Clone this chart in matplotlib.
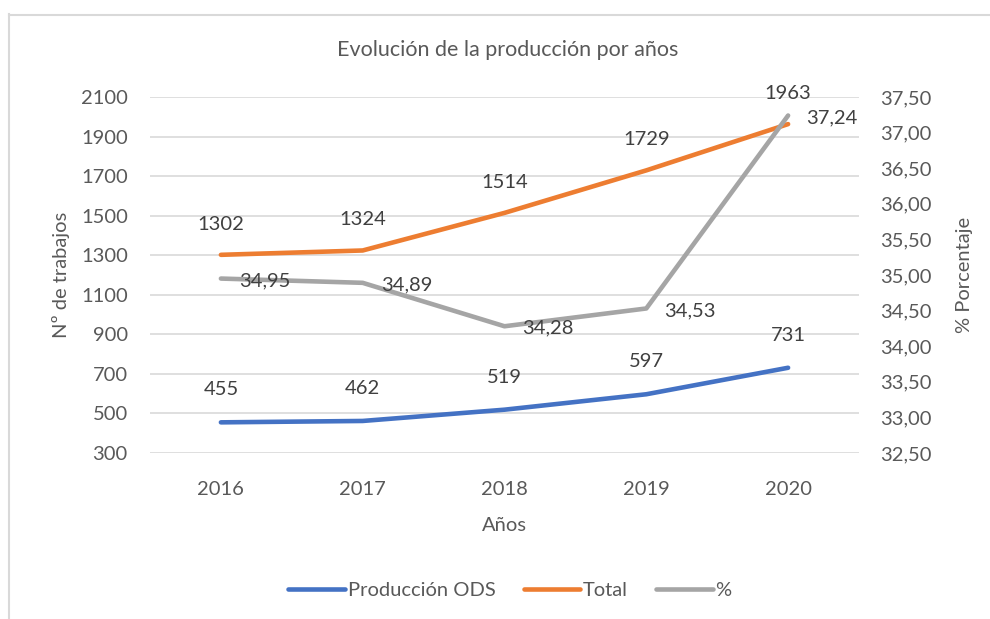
import matplotlib
matplotlib.use("Agg")
import matplotlib.pyplot as plt
from matplotlib.lines import Line2D

plt.rcParams['font.family'] = ['Lato', 'DejaVu Sans']

years = ['2016', '2017', '2018', '2019', '2020']
produccion_ods = [455, 462, 519, 597, 731]
total = [1302, 1324, 1514, 1729, 1963]
porcentaje = [34.95, 34.89, 34.28, 34.53, 37.24]

left_ticks = [300, 500, 700, 900, 1100, 1300, 1500, 1700, 1900, 2100]
right_ticks = [32.5, 33.0, 33.5, 34.0, 34.5, 35.0, 35.5, 36.0, 36.5, 37.0, 37.5]

txt = '#595959'
lab = '#404040'
c_blue = '#4472C4'
c_orange = '#ED7D31'
c_gray = '#A5A5A5'

W, H = 990, 619
fig = plt.figure(figsize=(W / 100, H / 100), dpi=100)
ax = fig.add_axes([150 / W, 1 - 453 / H, (859 - 150) / W, (453 - 97) / H])
ax2 = ax.twinx()

x = list(range(len(years)))
ax.set_xlim(-0.5, len(years) - 0.5)
ax.set_ylim(left_ticks[0], left_ticks[-1])
ax2.set_ylim(right_ticks[0], right_ticks[-1])

ax.set_yticks(left_ticks)
ax.set_yticklabels([str(v) for v in left_ticks])
ax2.set_yticks(right_ticks)
ax2.set_yticklabels([f"{v:.2f}".replace('.', ',') for v in right_ticks])
ax.set_xticks(x)
ax.set_xticklabels(years)

fs = 14.5
for a in (ax, ax2):
    for s in a.spines.values():
        s.set_visible(False)
    a.tick_params(length=0, labelsize=fs, colors=txt)
ax.tick_params(axis='y', pad=16)
ax2.tick_params(axis='y', pad=15)
ax.tick_params(axis='x', pad=20)
ax.grid(axis='y', color='#D9D9D9', linewidth=1.2)
ax.set_axisbelow(True)

lw = 3.3
ax.plot(x, produccion_ods, color=c_blue, lw=lw, solid_capstyle='round', solid_joinstyle='round', zorder=3)
ax.plot(x, total, color=c_orange, lw=lw, solid_capstyle='round', solid_joinstyle='round', zorder=3)
ax2.plot(x, porcentaje, color=c_gray, lw=lw, solid_capstyle='round', solid_joinstyle='round', zorder=3)

for xi, v in zip(x, produccion_ods):
    ax.annotate(str(v), (xi, v), xytext=(0, 24), textcoords='offset pixels',
                ha='center', va='bottom', fontsize=fs, color=lab)
for xi, v in zip(x, total):
    ax.annotate(str(v), (xi, v), xytext=(0, 22), textcoords='offset pixels',
                ha='center', va='bottom', fontsize=fs, color=lab)
for xi, v in zip(x, porcentaje):
    ax2.annotate(f"{v:.2f}".replace('.', ','), (xi, v), xytext=(18, -2), textcoords='offset pixels',
                 ha='left', va='center', fontsize=fs, color=lab, zorder=4)

ax.set_xlabel('Años', fontsize=fs, color=txt, labelpad=14)
ax.set_ylabel('Nº de trabajos', fontsize=fs, color=txt, labelpad=8)
ax2.set_ylabel('% Porcentaje', fontsize=fs, color=txt, labelpad=18)

fig.text(508 / W, 1 - 50 / H, 'Evolución de la producción por años', ha='center', va='center',
         fontsize=15.5, color=txt)

handles = [Line2D([], [], color=c_blue, lw=lw, solid_capstyle='round'),
           Line2D([], [], color=c_orange, lw=lw, solid_capstyle='round'),
           Line2D([], [], color=c_gray, lw=lw, solid_capstyle='round')]
leg = fig.legend(handles, ['Producción ODS', 'Total', '%'], loc='center',
                 bbox_to_anchor=(510 / W, 1 - 590 / H), ncol=3, frameon=False,
                 fontsize=fs, handlelength=2.8, handletextpad=0.15, columnspacing=1.4)
for t in leg.get_texts():
    t.set_color(txt)

# chart border (left and top visible)
fig.add_artist(Line2D([8.5 / W, 8.5 / W], [0, 1 - 14 / H], color='#D9D9D9', lw=1.5, transform=fig.transFigure))
fig.add_artist(Line2D([8.5 / W, 1], [1 - 14.5 / H, 1 - 14.5 / H], color='#D9D9D9', lw=1.5, transform=fig.transFigure))

fig.savefig('out.png', dpi=100)
